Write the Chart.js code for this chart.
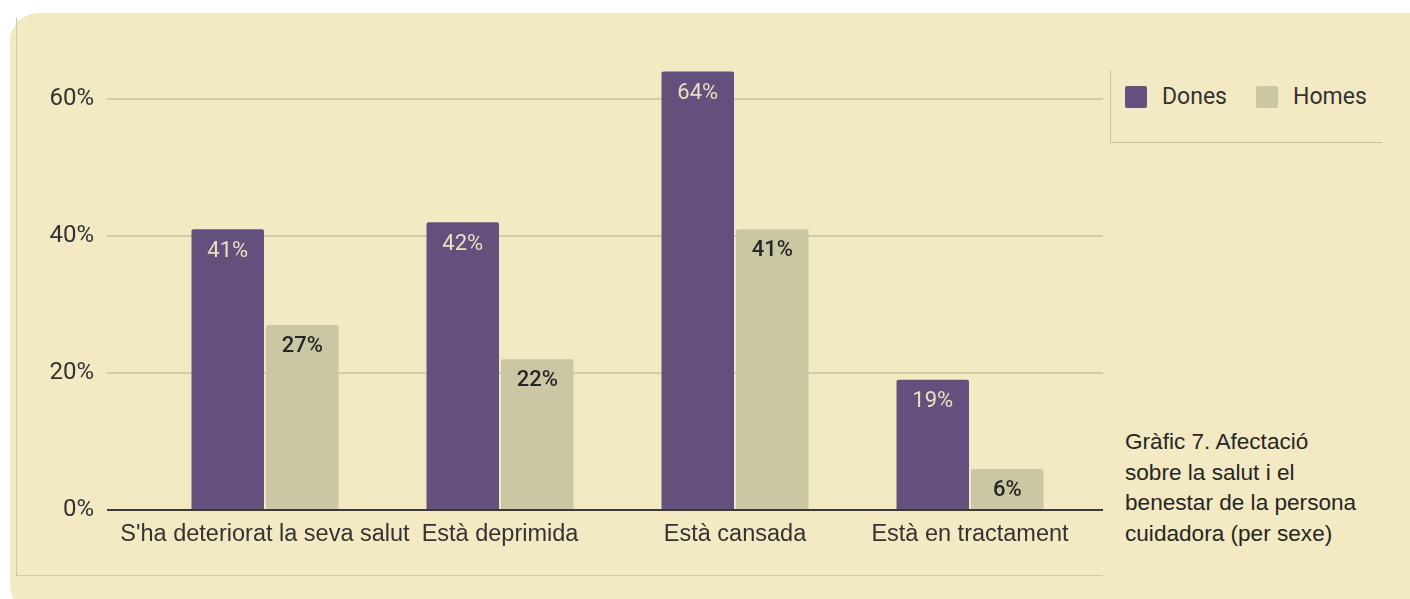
<!DOCTYPE html>
<html lang="ca">
<head>
<meta charset="utf-8">
<title>Gràfic 7. Afectació sobre la salut</title>
<script src="https://cdn.jsdelivr.net/npm/chart.js@4/dist/chart.umd.min.js"></script>
<style>
  html, body { margin: 0; padding: 0; background: #fff; }
  body { width: 1410px; height: 599px; position: relative; overflow: hidden; }
  .card {
    position: absolute; left: 10px; top: 13px; width: 1430px; height: 600px;
    background: #f3e9c3; border-radius: 28px;
  }
  .frame-v { position: absolute; left: 16px; top: 18px; width: 1px; height: 558px; background: #cfc6a6; }
  .frame-h { position: absolute; left: 16px; top: 575px; width: 1087px; height: 1px; background: #d3caa9; }
  #chart { position: absolute; left: 0; top: 0; }
  .legend-box { position: absolute; left: 1110px; top: 70px; width: 271px; height: 72px;
    border-left: 1px solid #c9c0a0; border-bottom: 1px solid #c9c0a0; }
  .legend { position: absolute; left: 1125px; top: 83px; display: flex; align-items: center;
    font-family: Roboto, "Liberation Sans", sans-serif; font-size: 23px; color: #333; }
  .legend span.sw { display: inline-block; width: 22px; height: 22px; border-radius: 2px; margin-right: 15px; }
  .legend span.lbl { margin-right: 29px; }
  .caption { position: absolute; left: 1125px; top: 427px; width: 285px; white-space: nowrap;
    font-family: "Liberation Sans", Arial, sans-serif; font-size: 22.6px; line-height: 30.5px; color: #262626; }
</style>
</head>
<body>
<div class="card"></div>
<div class="frame-v"></div>
<div class="frame-h"></div>
<canvas id="chart" width="1103" height="599"></canvas>
<div class="legend-box"></div>
<div class="legend" id="legend"></div>
<div class="caption">Gràfic 7. Afectació<br>sobre la salut i el<br>benestar de la persona<br>cuidadora (per sexe)</div>

<script>
// Categories and percentages per sex
const categories = ["S'ha deteriorat la seva salut", 'Està deprimida', 'Està cansada', 'Està en tractament'];
const dones = [41, 42, 64, 19];
const homes = [27, 22, 41, 6];
const yTicks = [0, 20, 40, 60];

const colDones = '#63507d';
const colHomes = '#cbc6a3';

// horizontal gridlines run wider than the bar area, and the zero line sits on top
const gridPlugin = {
  id: 'wideGrid',
  beforeDatasetsDraw(chart) {
    const { ctx, scales: { y } } = chart;
    ctx.save();
    ctx.strokeStyle = '#cbc19f';
    ctx.lineWidth = 1.5;
    yTicks.filter(v => v > 0).forEach(v => {
      const py = y.getPixelForValue(v);
      ctx.beginPath();
      ctx.moveTo(107, py);
      ctx.lineTo(1103, py);
      ctx.stroke();
    });
    ctx.restore();
  },
  afterDatasetsDraw(chart) {
    const { ctx, scales: { y } } = chart;
    const py = y.getPixelForValue(0);
    ctx.save();
    ctx.strokeStyle = '#3a3a3a';
    ctx.lineWidth = 2;
    ctx.beginPath();
    ctx.moveTo(107, py);
    ctx.lineTo(1103, py);
    ctx.stroke();
    ctx.restore();
  }
};

// value labels inside the top of each bar
const valueLabels = {
  id: 'valueLabels',
  afterDatasetsDraw(chart) {
    const ctx = chart.ctx;
    ctx.save();
    ctx.textAlign = 'center';
    ctx.textBaseline = 'middle';
    chart.data.datasets.forEach((ds, i) => {
      const meta = chart.getDatasetMeta(i);
      ctx.font = i === 0 ? '400 22px Roboto' : '500 22px Roboto';
      ctx.fillStyle = i === 0 ? '#eadfc2' : '#262626';
      meta.data.forEach((bar, j) => {
        ctx.fillText(ds.data[j] + '%', bar.x, bar.y + (i === 0 ? 22 : 21.5));
      });
    });
    ctx.restore();
  }
};

const chart = new Chart(document.getElementById('chart'), {
  type: 'bar',
  data: {
    labels: categories,
    datasets: [
      { label: 'Dones', data: dones, backgroundColor: colDones, borderRadius: 2 },
      { label: 'Homes', data: homes, backgroundColor: colHomes, borderRadius: 2 }
    ]
  },
  options: {
    responsive: false,
    animation: false,
    devicePixelRatio: 1,
    categoryPercentage: 0.634,
    barPercentage: 0.973,
    layout: { padding: { left: 0, right: 15.5, top: 30.5, bottom: 0 } },
    plugins: {
      legend: { display: false },
      tooltip: { enabled: false }
    },
    scales: {
      x: {
        grid: { display: false, drawTicks: false },
        border: { display: false },
        ticks: {
          padding: 10.5,
          color: '#333',
          font: { family: '"Liberation Sans", Arial, sans-serif', size: 23.5 },
          maxRotation: 0,
          autoSkip: false
        },
        afterFit(scale) { scale.height = 89; }
      },
      y: {
        min: 0,
        max: 70,
        grid: { display: false, drawTicks: false },
        border: { display: false },
        ticks: {
          stepSize: 20,
          padding: 53.5,
          color: '#333',
          font: { family: 'Roboto, sans-serif', size: 24 },
          callback: v => v + '%'
        },
        afterBuildTicks(scale) {
          scale.ticks = scale.ticks.filter(t => yTicks.includes(t.value));
        },
        afterFit(scale) {
          scale.width = 147.5;
          // the wide label padding should not push the plot area down
          scale.paddingTop = 0;
          scale.paddingBottom = 0;
        }
      }
    }
  },
  plugins: [gridPlugin, valueLabels]
});

// legend built from the datasets
const legendEl = document.getElementById('legend');
chart.data.datasets.forEach(ds => {
  const sw = document.createElement('span');
  sw.className = 'sw';
  sw.style.background = ds.backgroundColor;
  const lbl = document.createElement('span');
  lbl.className = 'lbl';
  lbl.textContent = ds.label;
  legendEl.appendChild(sw);
  legendEl.appendChild(lbl);
});
</script>
</body>
</html>
